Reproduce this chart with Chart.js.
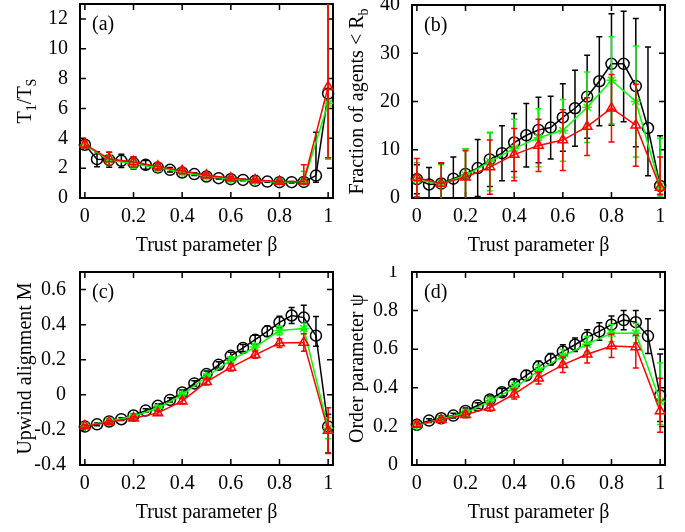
<!DOCTYPE html>
<html>
<head>
<meta charset="UTF-8">
<title>Trust parameter panels</title>
<script src="https://cdn.jsdelivr.net/npm/chart.js"></script>
<style>
  body { margin: 0; background: #fff; }
  .panel { position: absolute; }
</style>
</head>
<body>
<canvas id="pa" class="panel" width="342" height="266" style="left:0;top:0"></canvas>
<canvas id="pb" class="panel" width="343" height="266" style="left:342px;top:0"></canvas>
<canvas id="pc" class="panel" width="342" height="266" style="left:0;top:266px"></canvas>
<canvas id="pd" class="panel" width="343" height="266" style="left:342px;top:266px"></canvas>

<script>
// beta values: black curve every 0.05, red and green every 0.1
const betaFine = [0, 0.05, 0.1, 0.15, 0.2, 0.25, 0.3, 0.35, 0.4, 0.45, 0.5, 0.55, 0.6, 0.65, 0.7, 0.75, 0.8, 0.85, 0.9, 0.95, 1];
const betaCoarse = [0, 0.1, 0.2, 0.3, 0.4, 0.5, 0.6, 0.7, 0.8, 0.9, 1];
const xTicks = [0, 0.2, 0.4, 0.6, 0.8, 1];

// (a) T1/TS
const aBlack = [3.57, 2.6, 2.56, 2.49, 2.34, 2.22, 2.04, 1.89, 1.71, 1.6, 1.44, 1.33, 1.26, 1.21, 1.15, 1.1, 1.06, 1.06, 1.08, 1.5, 7.0];
const aBlackErr = [0.3, 0.5, 0.5, 0.45, 0.4, 0.3, 0.2, 0.15, 0.12, 0.1, 0.08, 0.06, 0.06, 0.05, 0.05, 0.05, 0.05, 0.05, 0.12, [0.45, 2.9], [4.3, 8]];
const aGreen = [3.55, 2.55, 2.3, 2.02, 1.72, 1.45, 1.25, 1.15, 1.06, 1.1, 6.35];
const aGreenErr = [0.2, 0.35, 0.3, 0.2, 0.15, 0.12, 0.1, 0.08, 0.08, [0.1, 0.7], [3.75, 8]];
const aRed = [3.6, 2.62, 2.42, 2.12, 1.82, 1.52, 1.32, 1.2, 1.1, 1.12, 7.45];
const aRedErr = [0.25, 0.45, 0.35, 0.25, 0.2, 0.15, 0.12, 0.1, 0.1, [0.15, 1.1], [4.75, 8]];
const aYTicks = [0, 2, 4, 6, 8, 10, 12];

// (b) fraction of agents < Rb
const bBlack = [3.9, 2.8, 3.0, 4.0, 5.0, 6.2, 8.0, 9.3, 11.5, 13.0, 14.1, 14.6, 16.7, 18.6, 21.0, 24.2, 27.8, 27.8, 23.2, 14.5, 2.5];
const bBlackErr = [3, 3.5, 4.2, 4.5, 5.2, 5.9, 5.6, 5.7, 6, 6.6, 6.8, 6.5, 7, 7.9, 8.6, 9.2, [12.7, 10.4], [12, 10.9], [12.6, 14], [9.9, 16.8], [1.8, 10.4]];
const bGreen = [3.8, 2.9, 4.7, 7.5, 10.3, 12.5, 14.0, 18.8, 24.4, 20.0, 2.4];
const bGreenErr = [3.5, 4, 5.5, 6, 6, 6, 6.4, 7.3, 9, 11.5, [2, 10]];
const bRed = [4.2, 3.0, 4.3, 6.4, 9.0, 10.9, 12.0, 14.8, 18.6, 15.1, 2.2];
const bRedErr = [4, 4.3, 5.5, 5.6, 5.4, 5.4, 6.3, 6, 7, 8.5, [1.5, 6.3]];
const bYTicks = [0, 10, 20, 30, 40];

// (c) upwind alignment M
const cBlack = [-0.181, -0.168, -0.152, -0.139, -0.118, -0.09, -0.063, -0.029, 0.013, 0.065, 0.118, 0.171, 0.222, 0.267, 0.314, 0.362, 0.413, 0.452, 0.44, 0.337, -0.181];
const cBlackErr = [0.01, 0.008, 0.008, 0.008, 0.01, 0.01, 0.012, 0.012, 0.015, 0.015, 0.018, 0.018, 0.02, 0.02, 0.025, 0.03, 0.035, 0.045, 0.07, [0.06, 0.11], [0.15, 0.07]];
const cGreen = [-0.178, -0.15, -0.122, -0.077, 0.0, 0.103, 0.198, 0.272, 0.366, 0.378, -0.19];
const cGreenErr = [0.008, 0.008, 0.01, 0.012, 0.015, 0.015, 0.018, 0.02, 0.025, 0.03, 0.06];
const cRed = [-0.178, -0.155, -0.133, -0.103, -0.036, 0.074, 0.156, 0.228, 0.295, 0.298, -0.204];
const cRedErr = [0.008, 0.008, 0.01, 0.012, 0.015, 0.018, 0.02, 0.02, 0.025, 0.05, 0.13];
const cYTicks = [-0.4, -0.2, 0, 0.2, 0.4, 0.6];

// (d) order parameter psi
const dBlack = [0.208, 0.23, 0.242, 0.256, 0.28, 0.308, 0.339, 0.377, 0.42, 0.464, 0.509, 0.548, 0.588, 0.623, 0.661, 0.692, 0.727, 0.751, 0.74, 0.668, 0.36];
const dBlackErr = [0.01, 0.01, 0.012, 0.012, 0.015, 0.015, 0.018, 0.02, 0.022, 0.025, 0.03, 0.03, 0.035, 0.035, 0.04, 0.045, 0.045, 0.05, 0.06, 0.09, [0.135, 0.215]];
const dGreen = [0.205, 0.238, 0.27, 0.33, 0.4, 0.488, 0.564, 0.626, 0.683, 0.683, 0.33];
const dGreenErr = [0.01, 0.012, 0.015, 0.02, 0.025, 0.03, 0.035, 0.04, 0.045, 0.05, [0.12, 0.2]];
const dRed = [0.21, 0.234, 0.26, 0.298, 0.367, 0.45, 0.519, 0.574, 0.617, 0.612, 0.28];
const dRedErr = [0.012, 0.012, 0.015, 0.018, 0.025, 0.03, 0.04, 0.045, 0.06, [0.11, 0.06], [0.11, 0.17]];
const dYTicks = [0, 0.2, 0.4, 0.6, 0.8, 1];

const FONT = 'Liberation Serif, "Times New Roman", serif';
const FS = 20;
const fmt = v => Number(v.toFixed(2)).toString();

// frame, inward ticks, error bars and texts, gnuplot style
const gnuPlot = {
  id: 'gnuPlot',
  beforeDatasetsDraw(chart) {
    const { ctx, chartArea: a, scales: { x, y } } = chart;
    ctx.save();
    ctx.strokeStyle = '#000';
    ctx.lineWidth = 1.5;
    ctx.beginPath();
    x.ticks.forEach(t => {
      const px = x.getPixelForValue(t.value);
      ctx.moveTo(px, a.bottom); ctx.lineTo(px, a.bottom - 6);
      ctx.moveTo(px, a.top); ctx.lineTo(px, a.top + 6);
    });
    y.ticks.forEach(t => {
      const py = y.getPixelForValue(t.value);
      ctx.moveTo(a.left, py); ctx.lineTo(a.left + 6, py);
      ctx.moveTo(a.right, py); ctx.lineTo(a.right - 6, py);
    });
    ctx.stroke();
    ctx.lineWidth = 2;
    ctx.strokeRect(a.left, a.top, a.right - a.left, a.bottom - a.top);
    ctx.restore();
  },
  beforeDatasetDraw(chart, args) {
    const ds = chart.data.datasets[args.index];
    if (!ds.err) return;
    const { ctx, chartArea: a, scales: { x, y } } = chart;
    ctx.save();
    ctx.beginPath();
    ctx.rect(a.left - 8, a.top, a.right - a.left + 16, a.bottom - a.top);
    ctx.clip();
    ctx.strokeStyle = ds.borderColor;
    ctx.lineWidth = 1.5;
    ctx.beginPath();
    ds.data.forEach((p, i) => {
      const e = Array.isArray(ds.err[i]) ? ds.err[i] : [ds.err[i], ds.err[i]];
      const px = x.getPixelForValue(p.x);
      const lo = y.getPixelForValue(p.y - e[0]);
      const hi = y.getPixelForValue(p.y + e[1]);
      ctx.moveTo(px, lo); ctx.lineTo(px, hi);
      ctx.moveTo(px - 3, lo); ctx.lineTo(px + 3, lo);
      ctx.moveTo(px - 3, hi); ctx.lineTo(px + 3, hi);
    });
    ctx.stroke();
    ctx.restore();
  },
  afterDraw(chart, args, opts) {
    const { ctx, chartArea: a } = chart;
    ctx.save();
    ctx.fillStyle = '#000';
    ctx.font = FS + 'px ' + FONT;
    ctx.textBaseline = 'middle';
    ctx.textAlign = 'left';
    ctx.fillText(opts.panel, a.left + 12, a.top + 21);
    ctx.textAlign = 'center';
    ctx.fillText('Trust parameter β', (a.left + a.right) / 2, a.bottom + 48);

    // y title with subscripts, rotated
    ctx.translate(a.left - 56, (a.top + a.bottom) / 2);
    ctx.rotate(-Math.PI / 2);
    ctx.textAlign = 'left';
    ctx.textBaseline = 'alphabetic';
    const parts = opts.yTitle.map(([txt, sub]) => {
      const f = (sub ? '14px ' : FS + 'px ') + FONT;
      ctx.font = f;
      return { txt, sub, f, w: ctx.measureText(txt).width };
    });
    let cx = -parts.reduce((s, p) => s + p.w, 0) / 2;
    parts.forEach(p => {
      ctx.font = p.f;
      ctx.fillText(p.txt, cx, p.sub ? 12 : 7);
      cx += p.w;
    });
    ctx.restore();
  }
};

function series(xs, ys, err, color, style, r) {
  return {
    data: xs.map((v, i) => ({ x: v, y: ys[i] })),
    err: err,
    borderColor: color,
    backgroundColor: 'rgba(0,0,0,0)',
    borderWidth: 1.5,
    pointStyle: style,
    pointRadius: r,
    pointBorderWidth: 1.5,
    pointBorderColor: color,
    pointBackgroundColor: 'rgba(0,0,0,0)',
    tension: 0,
    clip: false
  };
}

function makePanel(id, cfg) {
  const fixTicks = list => s => { s.ticks = list.map(v => ({ value: v })); };
  new Chart(document.getElementById(id), {
    type: 'line',
    data: {
      datasets: [
        series(betaCoarse, cfg.red, cfg.redErr, '#ff0000', 'triangle', 5.5),
        series(betaCoarse, cfg.green, cfg.greenErr, '#00ff00', 'star', 5),
        series(betaFine, cfg.black, cfg.blackErr, '#000000', 'circle', 5.5)
      ]
    },
    options: {
      responsive: false,
      animation: false,
      events: [],
      layout: { autoPadding: false, padding: { top: cfg.top, right: cfg.right, left: 0, bottom: 0 } },
      plugins: {
        legend: { display: false },
        tooltip: { enabled: false },
        gnuPlot: { panel: cfg.panel, yTitle: cfg.yTitle }
      },
      scales: {
        x: {
          type: 'linear',
          min: -0.02, max: 1.02,
          afterBuildTicks: fixTicks(xTicks),
          afterFit: s => { s.height = cfg.xh; s.paddingLeft = 0; s.paddingRight = 0; },
          grid: { display: false, drawTicks: false },
          border: { display: false },
          ticks: { color: '#000', font: { family: FONT, size: FS }, padding: 7, maxRotation: 0, autoSkip: false, callback: v => fmt(v) }
        },
        y: {
          type: 'linear',
          min: cfg.ymin, max: cfg.ymax,
          afterBuildTicks: fixTicks(cfg.yTicks),
          afterFit: s => { s.width = cfg.yw; s.paddingTop = 0; s.paddingBottom = 0; },
          grid: { display: false, drawTicks: false },
          border: { display: false },
          ticks: { color: '#000', font: { family: FONT, size: FS }, padding: cfg.ypad, autoSkip: false, callback: v => fmt(v) }
        }
      }
    },
    plugins: [gnuPlot]
  });
}

makePanel('pa', {
  panel: '(a)', yTitle: [['T', 0], ['1', 1], ['/T', 0], ['S', 1]],
  red: aRed, redErr: aRedErr, green: aGreen, greenErr: aGreenErr, black: aBlack, blackErr: aBlackErr,
  ymin: 0, ymax: 13, yTicks: aYTicks, top: 4, right: 9, yw: 80, xh: 68, ypad: 12
});
makePanel('pb', {
  panel: '(b)', yTitle: [['Fraction of agents < R', 0], ['b', 1]],
  red: bRed, redErr: bRedErr, green: bGreen, greenErr: bGreenErr, black: bBlack, blackErr: bBlackErr,
  ymin: 0, ymax: 40, yTicks: bYTicks, top: 5, right: 20, yw: 70, xh: 68, ypad: 12
});
makePanel('pc', {
  panel: '(c)', yTitle: [['Upwind alignment M', 0]],
  red: cRed, redErr: cRedErr, green: cGreen, greenErr: cGreenErr, black: cBlack, blackErr: cBlackErr,
  ymin: -0.4, ymax: 0.7, yTicks: cYTicks, top: 6, right: 9, yw: 80, xh: 67, ypad: 14
});
makePanel('pd', {
  panel: '(d)', yTitle: [['Order parameter ψ', 0]],
  red: dRed, redErr: dRedErr, green: dGreen, greenErr: dGreenErr, black: dBlack, blackErr: dBlackErr,
  ymin: 0, ymax: 1, yTicks: dYTicks, top: 6, right: 20, yw: 70, xh: 67, ypad: 14
});
</script>
</body>
</html>
